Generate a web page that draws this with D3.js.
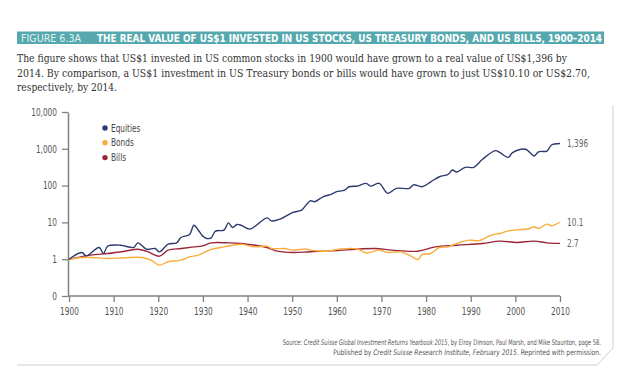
<!DOCTYPE html>
<html><head><meta charset="utf-8">
<script src="https://cdn.jsdelivr.net/npm/d3@7"></script>
<style>
body{margin:0;background:#fff;}
svg{display:block;}
.cond{font-family:"Liberation Sans Narrow","DejaVu Sans Condensed","Roboto Condensed",sans-serif;font-stretch:condensed;}
</style></head>
<body><svg id="c" width="636" height="370"></svg>
<script>
// ---- data ----
const seriesNames = ["Equities","Bonds","Bills"];
const seriesColors = ["#2c3b6e","#f9ac3a","#9a2637"];
const endLabels = ["1,396","10.1","2.7"];
const equityYears = [1900,1903,1904,1907,1908,1909,1912,1915,1916,1918,1920,1921,1923,1925,1926,1928,1929,1930,1931,1932,1933,1934,1936,1937,1938,1939,1940,1942,1946,1947,1949,1952,1954,1956,1957,1959,1961,1962,1964,1965,1967,1969,1970,1972,1974,1976,1979,1980,1982,1984,1986,1988,1989,1990,1992,1994,1996,1999,2000,2002,2003,2006,2008,2009,2011,2012,2014];
const equityValues = [1.0,1.52,1.23,2.08,1.43,2.26,2.4,2.08,2.78,1.87,1.95,1.58,2.56,2.78,3.9,4.7,8.4,6.2,4.3,3.66,3.8,5.8,6.2,9.7,7.3,8.8,8.3,6.56,13.3,11,12.3,18.7,21.6,38.6,36.4,49.6,58.8,67.8,75.5,93,97,115,97,115,61.5,84,84,105,93,127,174,202,265,235,314,314,518,890,800,585,785,970,640,830,870,1270,1396];
const bondYears = [1900,1904,1909,1913,1917,1919,1921,1923,1926,1928,1930,1933,1936,1940,1943,1946,1947,1950,1952,1955,1956,1960,1963,1967,1969,1972,1974,1977,1979,1981,1982,1984,1986,1988,1990,1993,1995,1998,2000,2002,2005,2007,2008,2009,2011,2012,2014];
const bondValues = [1.0,1.13,1.04,1.1,1.11,0.94,0.69,0.85,0.94,1.16,1.29,1.84,2.16,2.55,2.16,2.26,1.95,1.95,1.76,1.9,1.76,1.65,1.9,1.9,1.48,1.76,1.52,1.58,1.29,0.98,1.34,1.43,2.08,2.16,2.67,3.3,3.15,4.5,5.0,5.9,6.4,6.85,7.6,6.85,8.97,8.1,10.1];
const billYears = [1900,1905,1909,1913,1916,1918,1921,1923,1926,1929,1931,1933,1937,1940,1946,1948,1952,1956,1961,1971,1975,1981,1985,1990,1996,2000,2004,2008,2011,2014];
const billValues = [1.0,1.29,1.43,1.65,1.87,1.65,1.21,1.76,1.95,2.16,2.3,2.78,2.78,2.67,2.08,1.68,1.52,1.6,1.68,1.95,1.76,1.65,2.16,2.4,2.67,3.1,2.85,3.1,2.78,2.7];
const xTickLabels = ["1900","1910","1920","1930","1940","1950","1960","1970","1980","1990","2000","2010"];
const yTickValues = [0.1,1,10,100,1000,10000];
const yTickLabels = ["0","1","10","100","1,000","10,000"];

const series = [
  {name:seriesNames[0], color:seriesColors[0], label:endLabels[0], pts:equityYears.map((y,i)=>[y,equityValues[i]])},
  {name:seriesNames[1], color:seriesColors[1], label:endLabels[1], pts:bondYears.map((y,i)=>[y,bondValues[i]])},
  {name:seriesNames[2], color:seriesColors[2], label:endLabels[2], pts:billYears.map((y,i)=>[y,billValues[i]])}
];

const svg = d3.select("#c");
function squeeze(sel, f){ sel.each(function(){ const w=this.getComputedTextLength(); d3.select(this).attr("textLength",w*f).attr("lengthAdjust","spacingAndGlyphs"); }); }

// header bar
svg.append("rect").attr("x",17).attr("y",31.5).attr("width",587).attr("height",12.5).attr("fill","#55a9ae");
svg.append("text").attr("class","cond").attr("x",21).attr("y",41.5).attr("font-size",10.5).attr("fill","#e2f2f2").attr("textLength",60).attr("lengthAdjust","spacingAndGlyphs").text("FIGURE 6.3A");
svg.append("text").attr("class","cond").attr("x",97).attr("y",41.5).attr("font-size",10.5).attr("font-weight","bold").attr("fill","#fff")
  .attr("textLength",505).attr("lengthAdjust","spacingAndGlyphs")
  .text("THE REAL VALUE OF US$1 INVESTED IN US STOCKS, US TREASURY BONDS, AND US BILLS, 1900–2014");

// intro text
const intro = [
  ["The figure shows that US$1 invested in US common stocks in 1900 would have grown to a real value of US$1,396 by",550],
  ["2014. By comparison, a US$1 investment in US Treasury bonds or bills would have grown to just US$10.10 or US$2.70,",573],
  ["respectively, by 2014.",100]
];
intro.forEach((l,i)=>{
  svg.append("text").attr("x",17).attr("y",62+i*14.5).attr("font-family","'DejaVu Serif Condensed','DejaVu Serif',serif")
    .attr("font-stretch","condensed").attr("font-size",10.6).attr("fill","#333")
    .attr("textLength",l[1]).attr("lengthAdjust","spacingAndGlyphs").text(l[0]);
});

// frame
svg.append("path").attr("d","M613,105 L613,348 L597,365 L17,365").attr("fill","none").attr("stroke","#cfcfcf").attr("stroke-width",1);

// scales
const x = d3.scaleLinear().domain([1900,2014]).range([69,560]);
const xTicks = d3.scalePoint().domain(xTickLabels).range([69,560]);
const y = d3.scaleLog().domain([0.1,10000]).range([296,112]);

const axisColor = "#808080";
const gx = svg.append("g").attr("transform","translate(0,296)").call(d3.axisBottom(xTicks).tickSize(6).tickSizeOuter(0));
gx.select(".domain").attr("d","M68,0H560").attr("stroke",axisColor).attr("stroke-width",1.5);
gx.selectAll(".tick line").attr("stroke",axisColor).attr("stroke-width",1.3);
gx.selectAll(".tick text").attr("class","cond").attr("font-size",10).attr("fill","#555").attr("dy","0.95em");

const gy = svg.append("g").attr("transform","translate(68,0)")
  .call(d3.axisLeft(y).tickValues(yTickValues).tickFormat((d,i)=>yTickLabels[i]).tickSize(6).tickSizeOuter(0));
gy.select(".domain").attr("stroke",axisColor).attr("stroke-width",1.5);
gy.selectAll(".tick line").attr("stroke",axisColor).attr("stroke-width",1.3);
gy.selectAll(".tick text").attr("class","cond").attr("font-size",10).attr("fill","#555").attr("x",-11);
svg.selectAll(".tick text").attr("font-family",null);
squeeze(svg.selectAll(".tick text"), 0.82);

// lines
const line = d3.line().x(d=>x(d[0])).y(d=>y(d[1])).curve(d3.curveCatmullRom.alpha(0.5));
[2,1,0].forEach(k=>{
  const s = series[k];
  svg.append("path").datum(s.pts).attr("d",line).attr("fill","none").attr("stroke",s.color).attr("stroke-width",1.4);
});
series.forEach(s=>{
  const last = s.pts[s.pts.length-1];
  const t = svg.append("text").attr("class","cond").attr("x",x(last[0])+7).attr("y",y(last[1])).attr("dy","0.35em")
    .attr("font-size",10).attr("fill","#666").text(s.label);
  squeeze(t, 0.82);
});

// legend
series.forEach((s,i)=>{
  svg.append("circle").attr("cx",105).attr("cy",128+i*14.8).attr("r",2.7).attr("fill",s.color);
  const t = svg.append("text").attr("class","cond").attr("x",111).attr("y",128+i*14.8).attr("dy","0.35em")
    .attr("font-size",10).attr("fill","#444").text(s.name);
  squeeze(t, 0.82);
});

// source
const src1 = svg.append("text").attr("class","cond").attr("x",601).attr("y",345).attr("text-anchor","end").attr("font-size",7.6).attr("fill","#555");
src1.append("tspan").text("Source: ");
src1.append("tspan").attr("font-style","italic").text("Credit Suisse Global Investment Returns Yearbook 2015");
src1.append("tspan").text(", by Elroy Dimson, Paul Marsh, and Mike Staunton, page 58.");
const src2 = svg.append("text").attr("class","cond").attr("x",601).attr("y",355).attr("text-anchor","end").attr("font-size",7.6).attr("fill","#555");
src2.append("tspan").text("Published by ");
src2.append("tspan").attr("font-style","italic").text("Credit Suisse Research Institute, February 2015");
src2.append("tspan").text(". Reprinted with permission.");
[[src1,318],[src2,268]].forEach(([t,w])=>{ const f=w/t.node().getComputedTextLength();
  t.attr("transform",`translate(601,0) scale(${f},1) translate(-601,0)`); });
</script></body></html>
